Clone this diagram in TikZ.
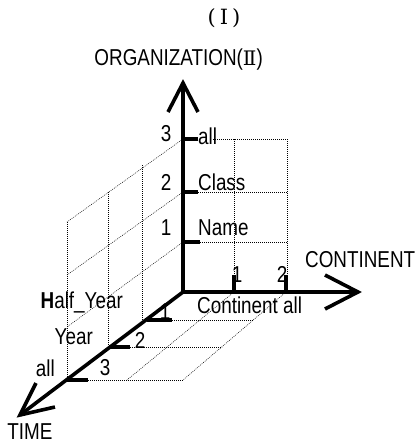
\documentclass[tikz,border=0pt]{standalone}
\usepackage{fontspec}
\setmainfont{Liberation Sans}[FakeStretch=0.82]
\newfontfamily\romfont{DejaVu Serif}
\begin{document}
\begin{tikzpicture}[x=1pt,y=-1pt,
  axis/.style={line width=3.6pt},
  arrowv/.style={line width=3.6pt, line join=miter},
  tickmark/.style={line width=3.6pt},
  gridline/.style={line width=0.5pt, dash pattern=on 0.9pt off 1.1pt},
  lbl/.style={font=\fontsize{23}{23}\selectfont, inner sep=0pt}]
\useasboundingbox (0,0) rectangle (418,445);
% key points
\coordinate (O) at (183,292);
\coordinate (Otip) at (183,83);
\coordinate (Ctip) at (358,292);
\coordinate (Ttip) at (20,415);
% grid: back wall
\draw[gridline] (213,139) -- (287,139);
\draw[gridline] (198,192) -- (287,192);
\draw[gridline] (200,242) -- (287,242);
\draw[gridline] (234,139) -- (234,292);
\draw[gridline] (287,139) -- (287,292);
% grid: left wall
\draw[gridline] (67,222) -- (67,380);
\draw[gridline] (108,192) -- (108,347);
\draw[gridline] (142,165) -- (142,320);
\draw[gridline] (183,139) -- (67,222);
\draw[gridline] (183,192) -- (67,275);
\draw[gridline] (183,242) -- (67,327);
% grid: floor
\draw[gridline] (172,320) -- (253,320);
\draw[gridline] (130,347) -- (222,347);
\draw[gridline] (88,380) -- (183,380);
\draw[gridline] (234,292) -- (127,380);
\draw[gridline] (286,292) -- (183,380);
% axes
\draw[axis] (O) -- (Otip);
\draw[axis, line join=round] (Ttip) -- (O) -- (Ctip);
\draw[arrowv] (168,112) -- (Otip) -- (198,112);
\draw[arrowv] (325,275) -- (Ctip) -- (325,309);
\draw[arrowv] (36,383) -- (Ttip) -- (55,407);
% ticks
\draw[tickmark] (183,139) -- (198,139);
\draw[tickmark] (183,192) -- (198,192);
\draw[tickmark] (183,242) -- (200,242);
\draw[tickmark] (234,292) -- (234,275);
\draw[tickmark] (286,292) -- (286,275);
\draw[tickmark] (147,320) -- (172,320);
\draw[tickmark] (109,347) -- (130,347);
\draw[tickmark] (67,380) -- (88,380);
% labels
\node[lbl] (t1) at (224,18) {\romfont\fontsize{21}{21}\selectfont(\hspace{4pt}Ⅰ\hspace{4pt})};
\node[lbl, anchor=east] (t2) at (263,60) {ORGANIZATION({\romfont\fontsize{20}{20}\selectfont Ⅱ})};
\node[lbl, anchor=west] (cl) at (305,260) {CONTINENT};
\node[lbl] (tl) at (30,432) {TIME};
\node[lbl] (o3) at (166,134) {3};
\node[lbl] (o2) at (166,182) {2};
\node[lbl] (o1) at (166,228) {1};
\node[lbl, anchor=west] (on3) at (198,136) {all};
\node[lbl, anchor=west] (on2) at (198,182) {Class};
\node[lbl, anchor=west] (on1) at (198,228) {Name};
\node[lbl] (c1) at (237,275) {1};
\node[lbl] (c2) at (282,274) {2};
\node[lbl, anchor=west] (cn) at (197,305) {Continent all};
\node[lbl, anchor=east] (tn1) at (123,302) {\textbf{H}alf\_Year};
\node[lbl, anchor=east] (tn2) at (93,337) {Year};
\node[lbl, anchor=east] (tn3) at (55,368) {all};
\node[lbl] (tv1) at (165,312) {1};
\node[lbl] (tv2) at (140,340) {2};
\node[lbl] (tv3) at (105,368) {3};
\end{tikzpicture}
\end{document}
